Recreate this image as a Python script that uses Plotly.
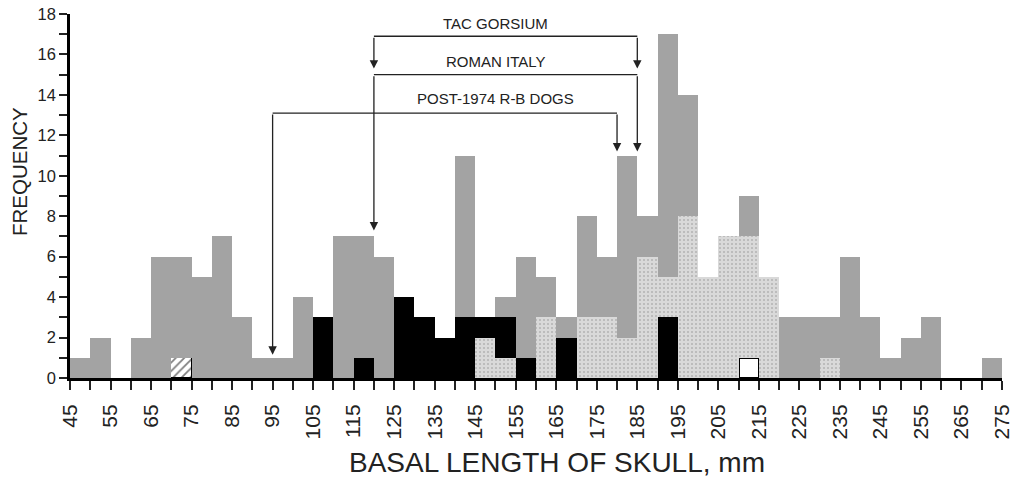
import plotly.graph_objects as go

# ---- data ----
bin_start = [45, 50, 55, 60, 65, 70, 75, 80, 85, 90, 95, 100, 105, 110, 115, 120,
             125, 130, 135, 140, 145, 150, 155, 160, 165, 170, 175, 180, 185, 190,
             195, 200, 205, 210, 215, 220, 225, 230, 235, 240, 245, 250, 255, 260,
             265, 270]
bin_width = 5

total = [1, 2, 0, 2, 6, 6, 5, 7, 3, 1, 1, 4, 3, 7, 7, 6,
         4, 3, 2, 11, 3, 4, 6, 5, 3, 8, 6, 11, 8, 17,
         14, 5, 7, 9, 5, 3, 3, 3, 6, 3, 1, 2, 3, 0,
         0, 1]
hatched = [0, 0, 0, 0, 0, 1, 0, 0, 0, 0, 0, 0, 0, 0, 0, 0,
           0, 0, 0, 0, 0, 0, 0, 0, 0, 0, 0, 0, 0, 0,
           0, 0, 0, 0, 0, 0, 0, 0, 0, 0, 0, 0, 0, 0,
           0, 0]
white_box = [0, 0, 0, 0, 0, 0, 0, 0, 0, 0, 0, 0, 0, 0, 0, 0,
             0, 0, 0, 0, 0, 0, 0, 0, 0, 0, 0, 0, 0, 0,
             0, 0, 0, 1, 0, 0, 0, 0, 0, 0, 0, 0, 0, 0,
             0, 0]
speck_low = [0, 0, 0, 0, 0, 0, 0, 0, 0, 0, 0, 0, 0, 0, 0, 0,
             0, 0, 0, 0, 2, 1, 0, 0, 0, 0, 0, 0, 0, 0,
             0, 0, 0, 0, 0, 0, 0, 0, 0, 0, 0, 0, 0, 0,
             0, 0]
black = [0, 0, 0, 0, 0, 0, 0, 0, 0, 0, 0, 0, 3, 0, 1, 0,
         4, 3, 2, 3, 1, 2, 1, 0, 2, 0, 0, 0, 0, 3,
         0, 0, 0, 0, 0, 0, 0, 0, 0, 0, 0, 0, 0, 0,
         0, 0]
speck_high = [0, 0, 0, 0, 0, 0, 0, 0, 0, 0, 0, 0, 0, 0, 0, 0,
              0, 0, 0, 0, 0, 0, 0, 3, 0, 3, 3, 2, 6, 2,
              8, 5, 7, 6, 5, 0, 0, 1, 0, 0, 0, 0, 0, 0,
              0, 0]

tick_vals = [45, 50, 55, 60, 65, 70, 75, 80, 85, 90, 95, 100, 105, 110, 115, 120,
             125, 130, 135, 140, 145, 150, 155, 160, 165, 170, 175, 180, 185, 190,
             195, 200, 205, 210, 215, 220, 225, 230, 235, 240, 245, 250, 255, 260,
             265, 270, 275]
tick_text = ["45", "", "55", "", "65", "", "75", "", "85", "", "95", "", "105", "",
             "115", "", "125", "", "135", "", "145", "", "155", "", "165", "", "175",
             "", "185", "", "195", "", "205", "", "215", "", "225", "", "235", "",
             "245", "", "255", "", "265", "", "275"]

bracket_names = ["TAC GORSIUM", "ROMAN ITALY", "POST-1974 R-B DOGS"]
bracket_left = [120, 120, 95]
bracket_right = [185, 185, 180]
bracket_level = [16.9, 15.0, 13.1]
bracket_left_tip = [15.3, 7.3, 1.15]
bracket_right_tip = [15.3, 11.2, 11.2]
bracket_label_x = [150, 150, 150]
bracket_label_y = [17.55, 15.65, 13.8]

# ---- build ----
centers = [s + bin_width / 2 for s in bin_start]
gray_rem = [t - (h + w + sl + b + sh) for t, h, w, sl, b, sh in
            zip(total, hatched, white_box, speck_low, black, speck_high)]


def nz(vals):
    return [v if v else None for v in vals]


fig = go.Figure()
fig.add_trace(go.Bar(x=centers, y=nz(hatched), width=bin_width,
                     marker=dict(color="white", line=dict(color="black", width=1.2),
                                 pattern=dict(shape="/", fgcolor="black", bgcolor="white",
                                              size=6, solidity=0.3))))
fig.add_trace(go.Bar(x=centers, y=nz(white_box), width=bin_width,
                     marker=dict(color="white", line=dict(color="black", width=2.5))))
speck_marker = dict(color="#d6d6d6", line=dict(width=0),
                    pattern=dict(shape=".", fgcolor="#8c8c8c", bgcolor="#d9d9d9",
                                 size=4, solidity=0.2))
fig.add_trace(go.Bar(x=centers, y=nz(speck_low), width=bin_width, marker=speck_marker))
fig.add_trace(go.Bar(x=centers, y=nz(black), width=bin_width,
                     marker=dict(color="black", line=dict(width=0))))
fig.add_trace(go.Bar(x=centers, y=nz(speck_high), width=bin_width, marker=speck_marker))
fig.add_trace(go.Bar(x=centers, y=nz(gray_rem), width=bin_width,
                     marker=dict(color="#a3a3a3", line=dict(width=0))))

for name, xl, xr, lv, tl, tr, lx, ly in zip(bracket_names, bracket_left, bracket_right,
                                            bracket_level, bracket_left_tip,
                                            bracket_right_tip, bracket_label_x,
                                            bracket_label_y):
    fig.add_shape(type="line", xref="x", yref="y", x0=xl, x1=xr, y0=lv, y1=lv,
                  line=dict(color="#222222", width=1.3))
    for xx, tip in ((xl, tl), (xr, tr)):
        fig.add_annotation(x=xx, y=tip, ax=xx, ay=lv, xref="x", yref="y",
                           axref="x", ayref="y", showarrow=True, arrowhead=2,
                           arrowsize=1.3, arrowwidth=1.3, arrowcolor="#222222",
                           standoff=0, startstandoff=0, text="")
    fig.add_annotation(x=lx, y=ly, xref="x", yref="y", text=name, showarrow=False,
                       font=dict(size=15, color="#222222"))

# axis titles (page body has an 8px margin, plot area sits at 62..993.7 / 6..370)
plot_w = 1011 - 62 - 17.3
plot_h = 472 - 6 - 102
fig.add_annotation(x=(557 - 70) / plot_w, y=(378 - 462) / plot_h,
                   xref="paper", yref="paper",
                   text="BASAL LENGTH OF SKULL, mm", showarrow=False,
                   xanchor="center", yanchor="middle",
                   font=dict(size=28, color="#222222"))
fig.add_annotation(x=(19 - 70) / plot_w, y=(378 - 171) / plot_h,
                   xref="paper", yref="paper",
                   text="FREQUENCY", showarrow=False, textangle=-90,
                   xanchor="center", yanchor="middle",
                   font=dict(size=20.5, color="#222222"))

fig.update_layout(
    width=1011, height=472,
    margin=dict(l=62, r=17.3, t=6, b=102, autoexpand=False),
    barmode="stack", bargap=0, showlegend=False,
    plot_bgcolor="white", paper_bgcolor="white",
    font=dict(family="Liberation Sans, Arial, sans-serif", color="#222222"),
    xaxis=dict(range=[45, 275], tickvals=tick_vals, ticktext=tick_text,
               tickangle=-90, ticks="outside", ticklen=9, tickwidth=1.5,
               tickcolor="#222222", showline=True, linewidth=3, linecolor="black",
               showgrid=False, zeroline=False, tickfont=dict(size=21),
               ticklabelstandoff=6, automargin=False, ticklabeloverflow="allow"),
    yaxis=dict(range=[0, 18], dtick=2, tick0=0, ticks="outside", ticklen=8,
               tickwidth=1.5, tickcolor="#222222", showline=True, linewidth=2.5,
               linecolor="black", showgrid=False, zeroline=False,
               tickfont=dict(size=16.5), automargin=False, ticklabeloverflow="allow",
               minor=dict(dtick=1, ticks="outside", ticklen=8, tickwidth=1.5,
                          tickcolor="#222222", showgrid=False)),
)

fig.write_html("out.html")
